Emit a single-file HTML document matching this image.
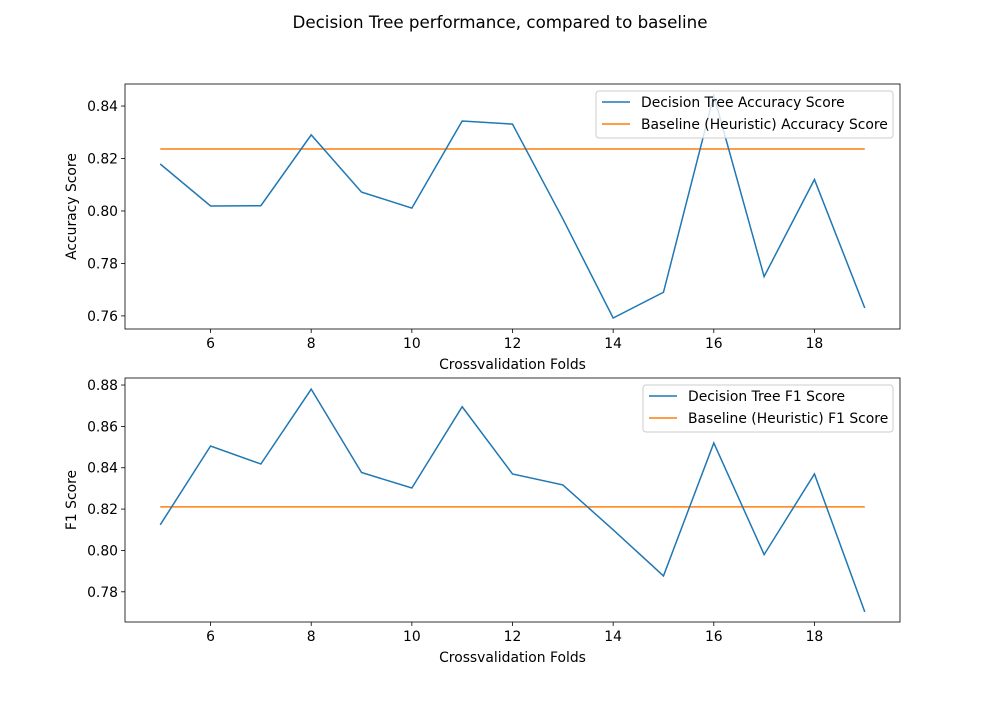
<!DOCTYPE html>
<html><head><meta charset="utf-8"><style>
body{margin:0;background:#fff;font-family:"Liberation Sans","DejaVu Sans",sans-serif;}
svg text{font-family:"DejaVu Sans","Liberation Sans",sans-serif;}
</style></head><body>
<svg id="c" width="1000" height="700" xmlns="http://www.w3.org/2000/svg">
<rect width="1000" height="700" fill="#fff"/>
<text x="500" y="28" font-size="16.7" text-anchor="middle">Decision Tree performance, compared to baseline</text>
</svg>
<script>
const folds=[5,6,7,8,9,10,11,12,13,14,15,16,17,18,19];
const accValues=[0.8179,0.8019,0.802,0.829,0.8072,0.8011,0.8343,0.8331,0.797,0.7592,0.769,0.844,0.775,0.812,0.763];
const accBaseline=0.8236;
const f1Values=[0.8124,0.8505,0.8418,0.878,0.8377,0.8302,0.8695,0.837,0.8317,0.81,0.7877,0.852,0.798,0.837,0.7703];
const f1Baseline=0.8211;
const xTicks=[6,8,10,12,14,16,18];
const accTicks=[0.76,0.78,0.80,0.82,0.84];
const f1Ticks=[0.78,0.80,0.82,0.84,0.86,0.88];
const NS='http://www.w3.org/2000/svg';
const svg=document.getElementById('c');
const FS=13.9;
function mk(t,a,p){const e=document.createElementNS(NS,t);for(const k in a)e.setAttribute(k,a[k]);(p||svg).appendChild(e);return e;}
function panel(o){
  const g=mk('g',{});
  
  
  const L=125,R=900;
  const xs=v=>L+(v-4.3)/(19.7-4.3)*(R-L);
  const ys=v=>o.b-(v-o.ymin)/(o.ymax-o.ymin)*(o.b-o.t);
  xTicks.forEach(v=>{const x=xs(v);mk('line',{x1:x,x2:x,y1:o.b,y2:o.b+4,stroke:'#000','stroke-width':0.8},g);
    const t=mk('text',{x:x,y:o.b+19,'font-size':FS,'text-anchor':'middle'},g);t.textContent=v;
    });
  o.ticks.forEach(v=>{const y=ys(v);mk('line',{x1:L-4,x2:L,y1:y,y2:y,stroke:'#000','stroke-width':0.8},g);
    const t=mk('text',{x:L-7,y:y+5,'font-size':FS,'text-anchor':'end'},g);t.textContent=v.toFixed(2);
    });
  const bl=mk('line',{x1:xs(folds[0]),x2:xs(folds[folds.length-1]),y1:ys(o.base),y2:ys(o.base),stroke:'#ff7f0e','stroke-width':1.5},g);
  
  const pl=mk('polyline',{points:folds.map((f,i)=>xs(f)+','+ys(o.vals[i])).join(' '),fill:'none',stroke:'#1f77b4','stroke-width':1.5},g);
  
  mk('rect',{x:L,y:o.t,width:R-L,height:o.b-o.t,fill:'none',stroke:'#000','stroke-width':0.8},g);
  const xt=mk('text',{x:(L+R)/2,y:o.b+40,'font-size':FS,'text-anchor':'middle'},g);xt.textContent='Crossvalidation Folds';
  
  const cy=(o.t+o.b)/2;
  const yt=mk('text',{x:76,y:cy,'font-size':FS,'text-anchor':'middle',transform:'rotate(-90 76 '+cy+')'},g);yt.textContent=o.ylabel;
  
  const lg=mk('g',{},g);
  
  mk('rect',{x:o.lx,y:o.t+7,width:893-o.lx,height:47,rx:3,fill:'#fff','fill-opacity':0.8,stroke:'#ccc'},lg);
  [[o.l1,'#1f77b4'],[o.l2,'#ff7f0e']].forEach((e,i)=>{const y=o.t+18+i*22;
    mk('line',{x1:o.lx+6,x2:o.lx+34,y1:y,y2:y,stroke:e[1],'stroke-width':1.5},lg);
    const t=mk('text',{x:o.lx+45,y:y+5,'font-size':FS},lg);t.textContent=e[0];
    });
}
panel({name:'accuracy-panel',t:84,b:329,ymin:0.7550,ymax:0.8484,ticks:accTicks,vals:accValues,base:accBaseline,ylabel:'Accuracy Score',lx:596,l1:'Decision Tree Accuracy Score',l2:'Baseline (Heuristic) Accuracy Score'});
panel({name:'f1-panel',t:378,b:622,ymin:0.7654,ymax:0.8834,ticks:f1Ticks,vals:f1Values,base:f1Baseline,ylabel:'F1 Score',lx:643,l1:'Decision Tree F1 Score',l2:'Baseline (Heuristic) F1 Score'});
</script>
</body></html>
